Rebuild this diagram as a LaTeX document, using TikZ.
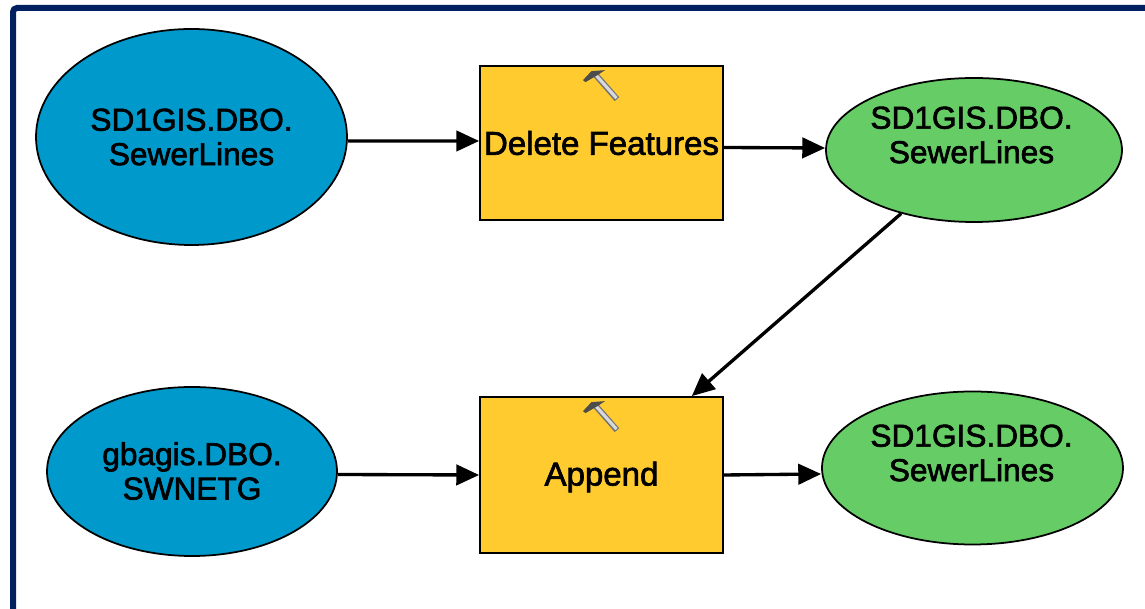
\documentclass[tikz,border=0pt]{standalone}
\usepackage{fontspec}
\setmainfont[FakeBold=2]{Liberation Sans}
\usetikzlibrary{arrows.meta,shapes.geometric,calc}
\definecolor{toolYellow}{HTML}{FFCB2F}
\definecolor{sourceBlue}{HTML}{0099CC}
\definecolor{resultGreen}{HTML}{66CC66}
\definecolor{frameNavy}{HTML}{002060}
\tikzset{
  tool/.style={draw, fill=toolYellow, line width=0.5pt, minimum width=2.43cm, inner sep=0pt},
  source/.style={draw, ellipse, fill=sourceBlue, line width=0.5pt, inner sep=0pt},
  result/.style={draw, ellipse, fill=resultGreen, line width=0.5pt, inner sep=0pt},
  caption/.style={align=center, inner sep=0pt, font=\fontsize{9.0}{9.8}\selectfont},
  toolcaption/.style={inner sep=0pt, font=\fontsize{9.4}{9.8}\selectfont},
  flow/.style={-{Triangle[length=6.5pt,width=5.8pt]}, line width=0.95pt}
}
\newcommand{\hammer}[1]{
  \draw[line width=1.7pt, black!55] ($(#1.north)+(-0.065,-0.09)$) -- ($(#1.north)+(0.155,-0.34)$);
  \draw[line width=0.9pt, black!15] ($(#1.north)+(-0.055,-0.10)$) -- ($(#1.north)+(0.15,-0.33)$);
  \fill[black!70] ($(#1.north)+(-0.185,-0.15)$) -- ($(#1.north)+(-0.1,-0.06)$) -- ($(#1.north)+(0.035,-0.05)$)
    -- ($(#1.north)+(-0.04,-0.1)$) -- ($(#1.north)+(-0.16,-0.17)$) -- cycle;
}
\begin{document}
\begin{tikzpicture}
    \useasboundingbox (0,0) rectangle (11.45,6.09);
    \draw[frameNavy, line width=0.06cm, rounded corners=0.04cm] (0.13,0) -- (0.13,6.01) -- (11.45,6.01);

    \node[source, minimum width=3.11cm, minimum height=2.16cm] at (1.915,4.72) (S1) {};
    \node[source, minimum width=2.90cm, minimum height=1.69cm] at (1.92,1.375) (S2) {};
    \node[tool, minimum height=1.54cm] at (6.015,4.66) (D) {};
    \node[tool, minimum height=1.56cm] at (6.015,1.34) (A) {};
    \node[result, minimum width=2.96cm, minimum height=1.44cm] at (9.74,4.59) (R1) {};
    \node[result, minimum width=3.01cm, minimum height=1.53cm] at (9.725,1.41) (R2) {};

    \node[caption] at (1.915,4.72) (S1t) {SD1GIS.DBO.\\SewerLines};
    \node[caption] at (1.92,1.38) (S2t) {gbagis.DBO.\\SWNETG};
    \node[toolcaption] at (6.015,4.66) (Dt) {Delete Features};
    \node[toolcaption] at (6.015,1.32) (At) {Append};
    \node[caption] at (9.715,4.74) (R1t) {SD1GIS.DBO.\\SewerLines};
    \node[caption] at (9.715,1.56) (R2t) {SD1GIS.DBO.\\SewerLines};

    \hammer{D}
    \hammer{A}

    \draw[flow] ([yshift=-0.04cm]S1.east) -- ([yshift=0.02cm]D.west);
    \draw[flow] ([yshift=-0.045cm]D.east) -- ([yshift=0.02cm]R1.west);
    \draw[flow] (R1) -- (A);
    \draw[flow] ([yshift=-0.03cm]S2.east) -- (A.west);
    \draw[flow] (A.east) -- ([yshift=-0.06cm]R2.west);
  \end{tikzpicture}
\end{document}
